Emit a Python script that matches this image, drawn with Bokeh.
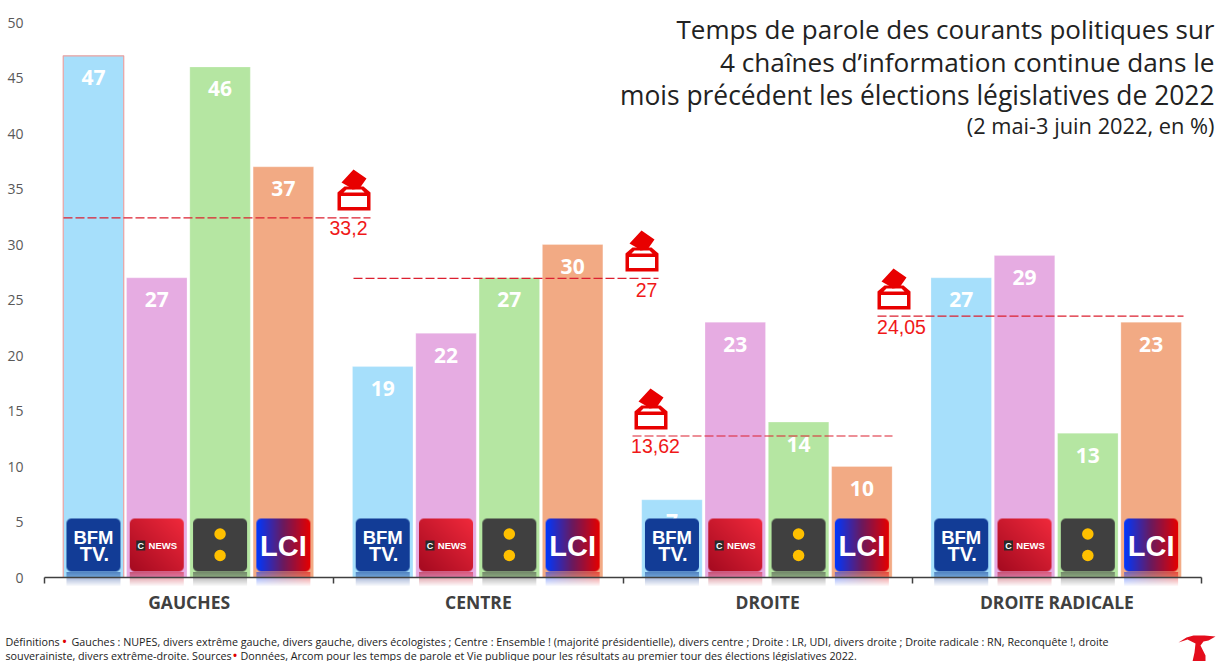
import numpy as np
from bokeh.plotting import figure
from bokeh.models import Range1d, FixedTicker, ColumnDataSource
from bokeh.core.properties import value
from bokeh.embed import file_html
from bokeh.resources import INLINE

groups = ["GAUCHES", "CENTRE", "DROITE", "DROITE RADICALE"]
channels = ["BFM TV", "CNews", "franceinfo", "LCI"]
bfm = [47, 19, 7, 27]
cnews = [27, 22, 23, 29]
finfo = [46, 27, 14, 13]
lci = [37, 30, 10, 23]
vote_lines = [32.4, 26.95, 12.75, 23.55]
vote_labels = ["33,2", "27", "13,62", "24,05"]
y_ticks = [0, 5, 10, 15, 20, 25, 30, 35, 40, 45, 50]
bar_colors = ["#A6DFFB", "#E6ACE2", "#B5E6A2", "#F2AA84"]

W, H = 1219, 661
OX, OY = 0, 0
PXU = 289.25
PYU = 11.1
def X(px): return (np.asarray(px, dtype=float) - 44) / PXU
def Y(py): return (577 - np.asarray(py, dtype=float)) / PYU

p = figure(width=W, height=H, output_backend="svg", toolbar_location=None,
           x_range=Range1d(float(X(OX)), float(X(OX + W))),
           y_range=Range1d(float(Y(OY + H)), float(Y(OY))),
           min_border=0, outline_line_color=None, background_fill_color="white")
p.grid.visible = False

# axes
xa = p.xaxis[0]
xa.fixed_location = 0
xa.bounds = (0, 4)
xa.ticker = FixedTicker(ticks=[0.5, 1.5, 2.5, 3.5], minor_ticks=[0, 1, 2, 3, 4])
xa.major_label_overrides = {0.5: groups[0], 1.5: groups[1], 2.5: groups[2], 3.5: groups[3]}
xa.major_tick_line_color = None
xa.minor_tick_out = 6
xa.minor_tick_in = 0
xa.minor_tick_line_color = "#404040"
xa.minor_tick_line_width = 1.5
xa.axis_line_color = "#404040"
xa.axis_line_width = 1.5
xa.major_label_standoff = 6
xa.major_label_text_font = "Open Sans"
xa.major_label_text_font_style = "bold"
xa.major_label_text_font_size = "17.5px"
xa.major_label_text_color = "#404040"

ya = p.yaxis[0]
ya.fixed_location = 0
ya.ticker = FixedTicker(ticks=y_ticks)
ya.axis_line_color = None
ya.major_tick_line_color = None
ya.minor_tick_line_color = None
ya.major_label_standoff = 15
ya.major_label_text_font = "Open Sans"
ya.major_label_text_font_size = "14px"
ya.major_label_text_color = "#595959"

# bars
PITCH = 63.3 / PXU
BW = 60.5 / PXU
NUDGE = -0.7 / PXU
series = [bfm, cnews, finfo, lci]
centers = {}
for j, vals in enumerate(series):
    xs = [i + 0.5 + (j - 1.5) * PITCH + NUDGE for i in range(4)]
    centers[j] = xs
    src = ColumnDataSource(dict(x=xs, top=vals, lab=[str(v) for v in vals]))
    p.vbar(x="x", top="top", bottom=0, width=BW, source=src, fill_color=bar_colors[j],
           line_color="white", line_alpha=0.25, line_width=1)
    p.text(x="x", y="top", text="lab", source=src, text_color="white", text_align="center",
           text_baseline="middle", y_offset=22, text_font=value("Open Sans"),
           text_font_style="bold", text_font_size="21px")
p.vbar(x=[centers[0][0]], top=[bfm[0]], bottom=0, width=BW, fill_color=None,
       line_color="#E8A0A0", line_width=1.2)

# logos
LWP, LHP = 54, 53
LW = LWP / PXU
LT, LB = float(Y(518)), float(Y(571))

def rgb(h):
    return np.array([int(h[i:i + 2], 16) for i in (1, 3, 5)], dtype=float)

def pack(rgbarr, alpha):
    out = np.zeros(alpha.shape, dtype=np.uint32)
    v = out.view(np.uint8).reshape(alpha.shape + (4,))
    v[..., :3] = np.clip(rgbarr, 0, 255).astype(np.uint8)
    v[..., 3] = np.clip(alpha, 0, 255).astype(np.uint8)
    return out

def rounded_mask(h, w, r):
    yy, xx = np.mgrid[0:h, 0:w]
    dx = np.maximum(np.maximum(r - xx - 0.5, xx + 0.5 - (w - r)), 0)
    dy = np.maximum(np.maximum(r - yy - 0.5, yy + 0.5 - (h - r)), 0)
    return np.clip(r - np.hypot(dx, dy) + 0.5, 0, 1) * 255

def lci_rgb():
    t = (np.arange(LWP) + 0.5) / LWP
    a, m, b = rgb("#0038FF"), rgb("#6B1A5E"), rgb("#E60000")
    row = np.where((t < 0.5)[:, None], a + (m - a) * (t / 0.5)[:, None], m + (b - m) * ((t - 0.5) / 0.5)[:, None])
    return np.broadcast_to(row, (LHP, LWP, 3)).copy()

def cnews_rgb():
    yy, xx = np.mgrid[0:LHP, 0:LWP]
    t = ((xx / LWP + yy / LHP) / 2)[..., None]
    a, b = rgb("#A50A20"), rgb("#F22A3C")
    return a + (b - a) * t

def flat_rgb(h):
    return np.broadcast_to(rgb(h), (LHP, LWP, 3)).copy()

def draw_logo(cx, arr):
    mask = rounded_mask(LHP, LWP, 5)
    p.image_rgba(image=[pack(arr, mask)], x=cx - LW / 2, y=LB, dw=LW, dh=LT - LB)
    n = 15
    fade = np.linspace(0.0, 0.55, n)[:, None] * 255
    p.image_rgba(image=[pack(arr[:n], np.broadcast_to(fade, (n, LWP)))],
                 x=cx - LW / 2, y=float(Y(571.5 + n)), dw=LW, dh=n / PYU)

LN = dict(text_align="center", text_baseline="middle", text_color="white")
for i in range(4):
    c = centers[0][i]
    draw_logo(c, flat_rgb("#123C96"))
    p.text(x=[c], y=[Y(536.5)], text=["BFM"], text_font=value("Liberation Sans"), text_font_style="bold", text_font_size="18.5px", **LN)
    p.text(x=[c + 1 / PXU], y=[Y(553)], text=["TV."], text_font=value("Liberation Sans"), text_font_style="bold", text_font_size="20px", **LN)

    c = centers[1][i]
    draw_logo(c, cnews_rgb())
    p.vbar(x=[c - 16 / PXU], bottom=[Y(550)], top=[Y(540)], width=9 / PXU, fill_color="#2A2A2A", line_color=None)
    p.text(x=[c - 16 / PXU], y=[Y(545)], text=["C"], text_font=value("Liberation Sans"), text_font_style="bold", text_font_size="9px", **LN)
    p.text(x=[c + 6 / PXU], y=[Y(545)], text=["NEWS"], text_font=value("Liberation Sans"), text_font_style="bold", text_font_size="9.5px", **LN)

    c = centers[2][i]
    draw_logo(c, flat_rgb("#404040"))
    p.scatter(x=[c, c], y=[Y(533.5), Y(555)], size=11.5, marker="circle", fill_color="#FFC000", line_color=None)

    c = centers[3][i]
    draw_logo(c, lci_rgb())
    p.text(x=[c], y=[Y(545)], text=["LCI"], text_font=value("Liberation Sans"), text_font_style="bold", text_font_size="29px", **LN)

# average lines
line_spans = [(63, 370), (353, 658), (632, 892), (877, 1183)]
for val, (a, b) in zip(vote_lines, line_spans):
    p.line(x=[X(a), X(b)], y=[val, val], line_color="#DC2030", line_width=1.1, line_dash="9 3")

# vote labels
lab_xy = [(348, 227.5), (646, 289), (655, 445.5), (901, 326)]
for t, (lx, ly) in zip(vote_labels, lab_xy):
    p.text(x=[X(lx)], y=[Y(ly)], text=[t], text_color="#F01818", text_align="center", text_baseline="middle",
           text_font=value("Liberation Sans"), text_font_size="19.5px")

# ballot box icons (anchor: lower-left corner of the box)
icons = [(337, 210), (625, 271), (634, 429), (877, 309)]
for ax, ay in icons:
    ox = [0, 33, 33, 26, 7, 0]; oy = [0, 0, -18, -24, -24, -18]
    p.patch(x=X(np.array(ox) + ax), y=Y(np.array(oy) + ay), fill_color="#E80000", line_color=None)
    p.patch(x=X(np.array([3.5, 29.5, 29.5, 3.5]) + ax), y=Y(np.array([-3.5, -3.5, -14.5, -14.5]) + ay), fill_color="white", line_color=None)
    p.patch(x=X(np.array([6, 27, 24, 9]) + ax), y=Y(np.array([-18, -18, -21, -21]) + ay), fill_color="white", line_color=None)
    p.patch(x=X(np.array([4, 16, 29, 22, 15, 11]) + ax), y=Y(np.array([-28, -41, -32, -22, -21, -24]) + ay), fill_color="#E80000", line_color=None)

# title
title_rows = [("Temps de parole des courants politiques sur", 28, 26),
              ("4 chaînes d’information continue dans le", 61, 26.2),
              ("mois précédent les élections législatives de 2022", 94, 26.4)]
for t, py, fs in title_rows:
    p.text(x=[X(1214)], y=[Y(py)], text=[t], text_color="#222222", text_align="right", text_baseline="middle",
           text_font=value("Open Sans"), text_font_size=f"{fs}px")
p.text(x=[X(1214)], y=[Y(124.5)], text=["(2 mai-3 juin 2022, en %)"], text_color="#222222", text_align="right",
       text_baseline="middle", text_font=value("Open Sans"), text_font_size="21.8px")

# footer
foot = [(5, 641, "Définitions", "#222222", "normal"), (62, 640.5, "•", "#E00000", "bold"),
        (71, 641, "Gauches : NUPES, divers extrême gauche, divers gauche, divers écologistes ; Centre : Ensemble ! (majorité présidentielle), divers centre ; Droite : LR, UDI, divers droite ; Droite radicale : RN, Reconquête !, droite", "#222222", "normal"),
        (5, 655, "souverainiste, divers extrême-droite. Sources", "#222222", "normal"), (232.5, 654.5, "•", "#E00000", "bold"),
        (240, 655, "Données, Arcom pour les temps de parole et Vie publique pour les résultats au premier tour des élections législatives 2022.", "#222222", "normal")]
for fx, fy, t, col, st in foot:
    p.text(x=[X(fx)], y=[Y(fy)], text=[t], text_color=col, text_align="left", text_baseline="middle",
           text_font=value("Open Sans"), text_font_style=st, text_font_size="10.75px")

# T logo
tx = [1178, 1186, 1193, 1204, 1215, 1208, 1203, 1200, 1205, 1205, 1192, 1194, 1195, 1187]
ty = [642, 637, 635, 635, 636, 640, 641, 645, 655, 661, 661, 652, 643, 639]
p.patch(x=X(tx), y=Y(ty), fill_color="#E40D1C", line_color=None)

open("out.html", "w").write(file_html(p, INLINE))
